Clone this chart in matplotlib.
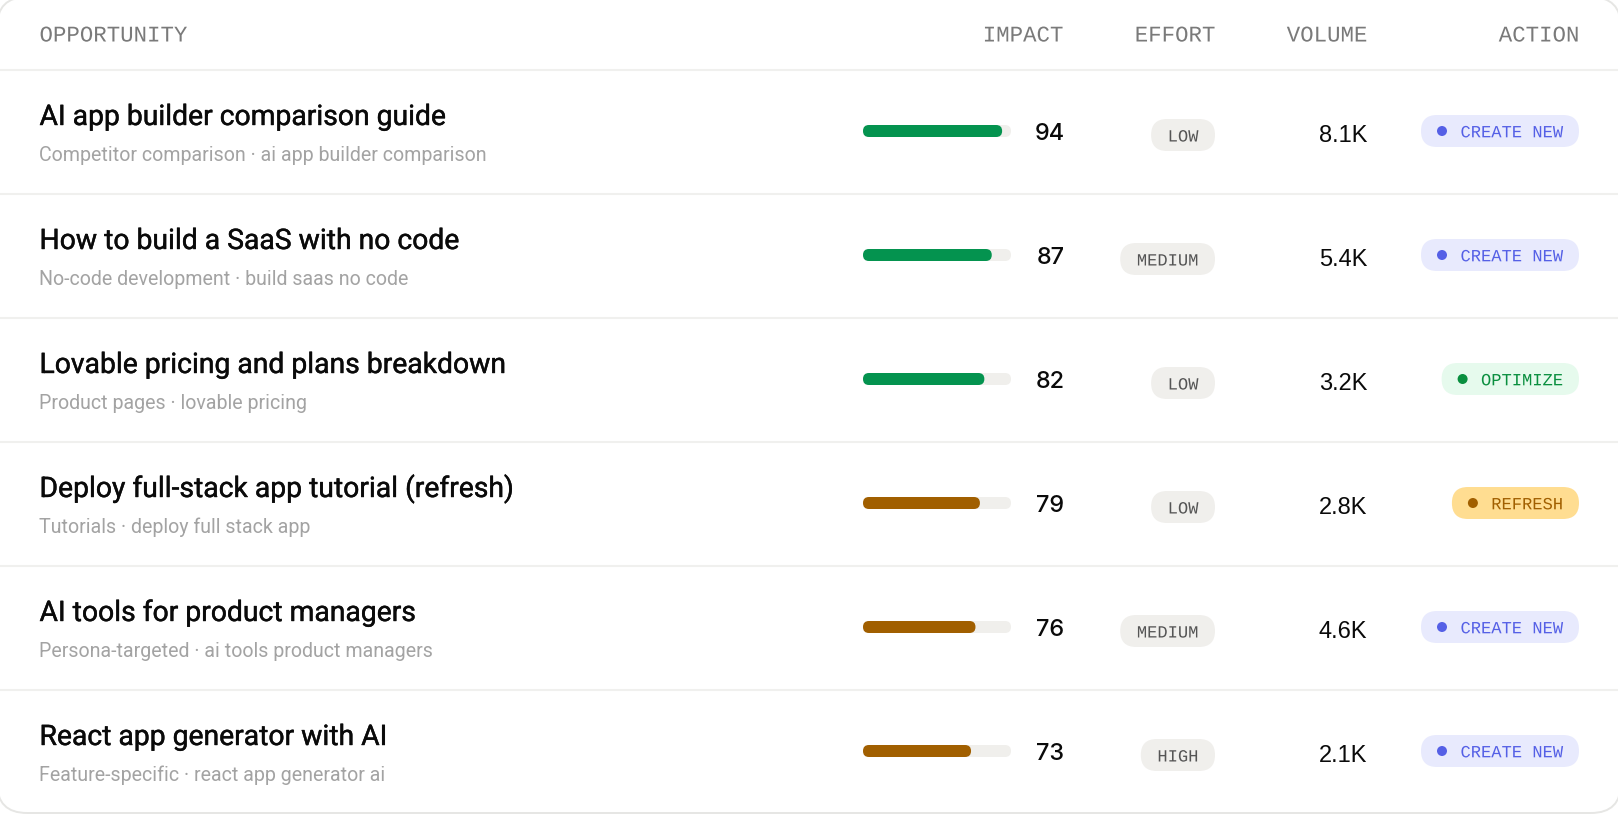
import matplotlib
matplotlib.use("Agg")
import matplotlib.pyplot as plt
import matplotlib.patheffects as pe
from matplotlib.patches import FancyBboxPatch, Circle

# table values
columns = ["OPPORTUNITY", "IMPACT", "EFFORT", "VOLUME", "ACTION"]
titles = ["AI app builder comparison guide", "How to build a SaaS with no code",
          "Lovable pricing and plans breakdown", "Deploy full-stack app tutorial (refresh)",
          "AI tools for product managers", "React app generator with AI"]
subtitles = ["Competitor comparison · ai app builder comparison", "No-code development · build saas no code",
             "Product pages · lovable pricing", "Tutorials · deploy full stack app",
             "Persona-targeted · ai tools product managers", "Feature-specific · react app generator ai"]
impact = [94, 87, 82, 79, 76, 73]
effort = ["LOW", "MEDIUM", "LOW", "LOW", "MEDIUM", "HIGH"]
volume = ["8.1K", "5.4K", "3.2K", "2.8K", "4.6K", "2.1K"]
action = ["CREATE NEW", "CREATE NEW", "OPTIMIZE", "REFRESH", "CREATE NEW", "CREATE NEW"]

action_colors = {"CREATE NEW": ("#e8eafd", "#5560e6"),
                 "OPTIMIZE": ("#e6faed", "#0a8f3f"),
                 "REFRESH": ("#ffdd91", "#a15f00")}

def px(size):
    # font size given in pixels
    return size * 72 / 100

def pill(ax, x0, x1, yc, h, color):
    r = h / 2
    ax.add_patch(FancyBboxPatch((x0 + r, yc), x1 - x0 - h, 0, boxstyle=f"round,pad={r},rounding_size={r}",
                                fc=color, ec="none", zorder=2))

def mono_text(ax, x, y, s, size, color, ha):
    # Normal() draws the glyphs as plain paths, a bit softer than hinted text
    t = ax.text(x, y, s, family="Liberation Mono", fontsize=px(size), color=color, ha=ha, va="baseline", zorder=3)
    t.set_path_effects([pe.Normal()])

fig = plt.figure(figsize=(16.18, 8.14), dpi=100, facecolor="white")
ax = fig.add_axes([0, 0, 1, 1])
ax.set_xlim(0, 1618)
ax.set_ylim(814, 0)
ax.axis("off")

# card outline, sides run just off the picture
ax.add_patch(FancyBboxPatch((27, 27), 1564, 756, boxstyle="round,pad=30,rounding_size=30",
                            fc="white", ec="#e6e6e4", lw=1.4, zorder=0, clip_on=True))

sans = "Inter"
head_x = [39.5, 1063, 1215, 1367, 1579]
for i, name in enumerate(columns):
    mono_text(ax, head_x[i], 41.5, name, 22.4, "#7a7a7a", "left" if i == 0 else "right")

ax.plot([0, 1618], [70, 70], color="#f0f0ee", lw=1.5, zorder=1)

for i in range(len(titles)):
    y = 131 + 124 * i
    if i < len(titles) - 1:
        ax.plot([0, 1618], [y + 63, y + 63], color="#f0f0ee", lw=1.5, zorder=1)

    t = ax.text(39.5, y - 6, titles[i], family="Roboto", fontsize=px(28.3), color="#0a0a0a", va="baseline")
    t.set_path_effects([pe.withStroke(linewidth=0.3, foreground="#0a0a0a")])
    ax.text(39.5, y + 30, subtitles[i], family="Roboto", fontsize=px(19.6), color="#a3a3a3", va="baseline")

    # impact bar on its track
    pill(ax, 863, 1011, y, 12, "#f0efec")
    color = "#04934f" if impact[i] >= 80 else "#a15f00"
    pill(ax, 863, 863 + 148 * impact[i] / 100, y, 12, color)
    ax.text(1064.5, y + 8.5, str(impact[i]), family=sans, weight="medium", fontsize=px(23.5), color="#0a0a0a",
            ha="right", va="baseline")

    # effort
    w = 33 + 10.3 * len(effort[i])
    pill(ax, 1215 - w, 1215, y + 4, 32, "#f0efec")
    mono_text(ax, 1215 - w / 2, y + 10.5, effort[i], 17.1, "#555555", "center")

    ax.text(1367.5, y + 11, volume[i], family="Liberation Sans", fontsize=px(23.6), color="#0a0a0a",
            ha="right", va="baseline")

    # action badge
    bg, fg = action_colors[action[i]]
    w = 55 + 10.3 * len(action[i])
    pill(ax, 1579 - w, 1579, y, 32, bg)
    ax.add_patch(Circle((1579 - w + 21, y), 5, fc=fg, ec="none", zorder=3))
    mono_text(ax, 1563, y + 6.3, action[i], 17.1, fg, "right")

fig.savefig("out.png", dpi=100)
